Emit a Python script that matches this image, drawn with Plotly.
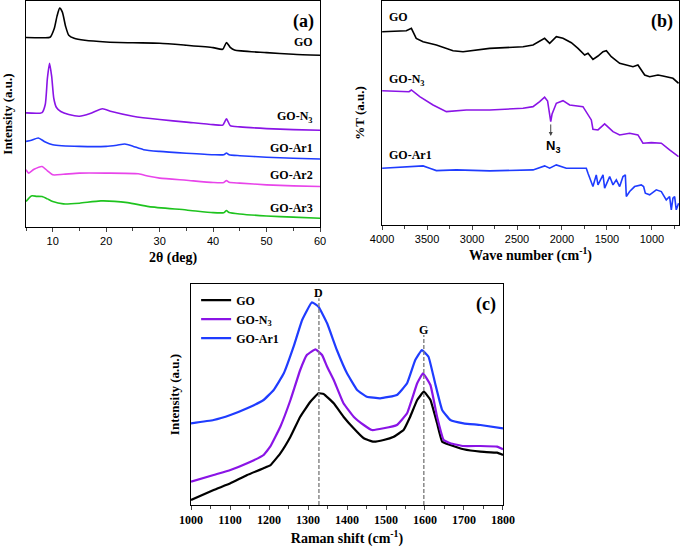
import plotly.graph_objects as go

# XRD (panel a) (a.u.)
xrd_go_x = [5, 8, 9.5, 10.3, 10.8, 11.3, 11.8, 12.4, 13, 14, 16, 20, 25, 30, 35, 40, 41.8, 42.5, 43.2, 44, 50, 55, 60]
xrd_go_y = [188.7, 188.5, 189, 198, 210, 218, 214, 200, 191, 188, 186, 184.3, 183.5, 183, 181, 178.7, 177, 183.7, 179, 176.3, 173.7, 172, 171]

xrd_n3_x = [5, 8, 8.6, 9.0, 9.4, 9.8, 10.2, 10.7, 11.5, 13, 15, 17, 19.3, 21, 25, 30, 35, 40, 41.8, 42.5, 43.2, 45, 50, 55, 60]
xrd_n3_y = [113.7, 114, 122, 148, 163, 150, 128, 119, 115, 112, 110.3, 113, 117.7, 115, 110.3, 107, 104.5, 102, 101.5, 107.7, 101, 99.7, 98, 97, 96.3]

xrd_ar1_x = [5, 6, 7.3, 8.5, 10, 15, 20, 22, 23.5, 25, 27, 30, 35, 40, 42, 42.5, 43, 45, 50, 55, 60]
xrd_ar1_y = [85.3, 86.5, 88.7, 85, 82, 80.3, 80.3, 81.5, 82.7, 80.5, 77, 75.3, 73.5, 72, 72, 73.7, 72, 71, 69.5, 68.5, 67.7]

xrd_ar2_x = [5, 5.5, 6.5, 8, 9, 10, 12, 15, 20, 26, 28, 30, 35, 40, 42, 42.5, 43, 45, 50, 55, 60]
xrd_ar2_y = [57, 53.7, 57.5, 60.3, 56, 52, 52.5, 53.7, 53.7, 53, 50.5, 48.7, 46.5, 44.3, 44.3, 46.3, 44.5, 43.7, 42, 41, 40.3]

xrd_ar3_x = [5, 6, 7, 8, 9, 10, 12, 15, 19, 24, 28, 35, 40, 42, 42.5, 43, 45, 50, 55, 60]
xrd_ar3_y = [25.3, 31, 30.5, 30.3, 28, 25.3, 23, 23.7, 26, 24.3, 20.3, 17, 14.3, 14.3, 16.3, 14.5, 13, 11, 9.8, 8.7]

# FTIR (panel b)
ftir_x_go = [3999, 3730, 3674, 3620, 3544, 3396, 3211, 3100, 2804, 2433, 2322, 2193, 2137, 2063, 1989, 1896, 1822,
             1748, 1711, 1656, 1600, 1544, 1507, 1452, 1359, 1285, 1211, 1156, 1081, 1026, 933, 878, 767, 704]
ftir_y_go = [193.3, 194.3, 196.7, 186.7, 183.3, 180, 174.3, 173.3, 176.7, 178.3, 180, 186.7, 181.7, 188.3, 186.7, 182.3,
             176.7, 170, 171.7, 165.7, 169, 173.3, 174.3, 168.3, 161.7, 160, 158.3, 160, 150, 148.3, 150, 149, 146.7, 141.7]

ftir_x_n3 = [3999, 3700, 3674, 3581, 3433, 3285, 3063, 2804, 2433, 2322, 2248, 2193, 2160, 2135, 2125, 2110, 2063,
             1989, 1915, 1767, 1711, 1674, 1656, 1600, 1526, 1433, 1359, 1248, 1156, 1100, 1007, 896, 804, 704]
ftir_y_n3 = [134.3, 133.3, 135, 128.3, 120, 113.3, 115, 115, 116.7, 118.3, 123.3, 127.7, 124, 108, 103.3, 111, 121.7,
             124.3, 120, 118.3, 110, 105, 95.7, 95, 101, 93.3, 90, 91.7, 90, 81.7, 82.3, 81.7, 75, 68.3]

ftir_x_ar1 = [3999, 3544, 3470, 3396, 3174, 2804, 2322, 2193, 2137, 2063, 1952, 1730, 1711, 1674, 1656, 1619, 1600,
              1544, 1526, 1470, 1433, 1396, 1359, 1322, 1296, 1285, 1248, 1193, 1119, 1093, 1074, 1026, 952, 896,
              841, 804, 785, 767, 748, 730, 704]
ftir_y_ar1 = [56.7, 59, 56.7, 54.3, 55, 54, 55, 59, 56.7, 60, 56.7, 56.7, 51.7, 43.3, 38.3, 50, 40,
              50, 36.7, 48.3, 40, 45, 38.3, 48.3, 50, 28.3, 33.3, 38.3, 40, 38.3, 31.7, 30, 35, 33.3,
              25, 28.3, 15, 26.7, 28.3, 15, 21.7]

# Raman (panel c)
raman_x = [1000, 1058, 1101, 1144, 1186, 1203, 1229, 1255, 1280, 1306, 1327, 1340, 1366, 1391, 1417, 1443, 1468,
           1494, 1520, 1545, 1562, 1580, 1597, 1614, 1631, 1644, 1665, 1699, 1742, 1785, 1800]
raman_go = [5, 15, 21.7, 30, 36.7, 39.5, 51.7, 68.3, 88.3, 103.3, 111.7, 111, 101.7, 88.3, 76.7, 66.7, 63.3,
            65, 68.3, 75, 88.3, 105, 113.3, 105, 81.7, 63.3, 60, 55.7, 53.3, 52.3, 50]

raman_n3_x = [1000, 1058, 1101, 1144, 1186, 1203, 1229, 1255, 1280, 1297, 1319, 1336, 1349, 1366, 1391, 1417, 1443,
              1464, 1494, 1528, 1554, 1580, 1595, 1614, 1631, 1648, 1665, 1699, 1742, 1785, 1800]
raman_n3 = [23.3, 30, 35, 41.7, 50, 58.3, 78.3, 105, 135, 150, 155.7, 150, 138.3, 125, 101.7, 88.3, 80,
            75, 76.7, 80, 91.7, 121.7, 131.7, 120, 88.3, 65, 61.7, 59, 59, 58.3, 55.7]

raman_ar1_x = [1000, 1058, 1101, 1144, 1186, 1212, 1238, 1263, 1285, 1310, 1327, 1349, 1374, 1400, 1426, 1451, 1485,
               1528, 1554, 1575, 1592, 1609, 1626, 1644, 1665, 1699, 1742, 1800]
raman_ar1 = [81.7, 85, 90, 96.7, 105, 115, 131.7, 158.3, 185, 202.7, 198.3, 181.7, 155, 131.7, 115, 108.3, 106.7,
             110, 121.7, 145, 155, 148.3, 121.7, 95, 85, 81.7, 80, 76.7]

band_pos = [1328, 1597]
band_top = [206.7, 170]
band_names = ["D", "G"]

black = "#000000"
purple = "#8a14e6"
blue = "#1f3cff"
magenta = "#e845ea"
green = "#1ec31e"

serif = "Liberation Serif"
sans = "Liberation Sans"

fig = go.Figure()

# panel a
for xs, ys, c in [(xrd_go_x, xrd_go_y, black), (xrd_n3_x, xrd_n3_y, purple), (xrd_ar1_x, xrd_ar1_y, blue),
                  (xrd_ar2_x, xrd_ar2_y, magenta), (xrd_ar3_x, xrd_ar3_y, green)]:
    fig.add_trace(go.Scatter(x=xs, y=ys, mode="lines", line=dict(color=c, width=1.6, shape="spline", smoothing=0.6),
                             showlegend=False, xaxis="x", yaxis="y"))

# panel b
for xs, ys, c in [(ftir_x_go, ftir_y_go, black), (ftir_x_n3, ftir_y_n3, purple), (ftir_x_ar1, ftir_y_ar1, blue)]:
    fig.add_trace(go.Scatter(x=xs, y=ys, mode="lines", line=dict(color=c, width=1.6),
                             showlegend=False, xaxis="x2", yaxis="y2"))

# panel c
for xs, ys, c, name in [(raman_x, raman_go, black, "<b>GO</b>"), (raman_n3_x, raman_n3, purple, "<b>GO-N<sub>3</sub></b>"),
                        (raman_ar1_x, raman_ar1, blue, "<b>GO-Ar1</b>")]:
    fig.add_trace(go.Scatter(x=xs, y=ys, mode="lines", name=name,
                             line=dict(color=c, width=2.2, shape="spline", smoothing=0.3),
                             xaxis="x3", yaxis="y3"))

for pos, top, nm in zip(band_pos, band_top, band_names):
    fig.add_trace(go.Scatter(x=[pos, pos], y=[0, top], mode="lines", showlegend=False,
                             line=dict(color="#808080", width=1.4, dash="4px,2px"), xaxis="x3", yaxis="y3"))
    fig.add_annotation(x=pos, y=top, xref="x3", yref="y3", text="<b>%s</b>" % nm, showarrow=False,
                       yanchor="bottom", yshift=-4, font=dict(family=serif, size=12, color="black"))

frame = dict(showline=True, linecolor="black", linewidth=1, mirror=True, showgrid=False, zeroline=False,
             automargin=False)
tick_sans = dict(family=sans, size=11, color="black")
title_font = dict(family=serif, size=14, color="black")
ytitle_font = dict(family=serif, size=13, color="black")

fig.update_layout(
    width=681, height=547,
    margin=dict(l=0, r=0, t=0, b=0),
    paper_bgcolor="white", plot_bgcolor="white",
    xaxis=dict(domain=[0.0382, 0.4699], range=[5, 60], tick0=0, dtick=10, ticks="outside", ticklen=4,
               minor=dict(dtick=5, ticks="outside", ticklen=3, tick0=0), tickfont=tick_sans,
               title=dict(text="<b>2θ (deg)</b>", font=title_font, standoff=5), anchor="y", **frame),
    yaxis=dict(domain=[0.585, 0.998], range=[0, 225], showticklabels=False, ticks="", anchor="x",
               title=dict(text="<b>Intensity (a.u.)</b>", font=ytitle_font, standoff=10), **frame),
    xaxis2=dict(domain=[0.561, 0.997], range=[4000, 700], dtick=500, ticks="outside", ticklen=4,
                minor=dict(dtick=250, ticks="outside", ticklen=3), tickfont=tick_sans,
                title=dict(text="<b>Wave number (cm<sup>-1</sup>)</b>", font=title_font, standoff=5),
                anchor="y2", **frame),
    yaxis2=dict(domain=[0.589, 0.998], range=[0, 224], showticklabels=False, ticks="", anchor="x2",
                title=dict(text="<b>%T (a.u.)</b>", font=ytitle_font, standoff=13), **frame),
    xaxis3=dict(domain=[0.2805, 0.7386], range=[1000, 1800], dtick=100, ticks="outside", ticklen=4,
                minor=dict(dtick=50, ticks="outside", ticklen=3),
                tickfont=dict(family=serif, size=12, color="black"), tickprefix="<b>", ticksuffix="</b>",
                title=dict(text="<b>Raman shift (cm<sup>-1</sup>)</b>", font=title_font, standoff=6),
                anchor="y3", **frame),
    yaxis3=dict(domain=[0.0768, 0.4808], range=[0, 221], showticklabels=False, ticks="", anchor="x3",
                title=dict(text="<b>Intensity (a.u.)</b>", font=ytitle_font, standoff=7), **frame),
    legend=dict(x=0.288, y=0.478, xanchor="left", yanchor="top", bgcolor="rgba(0,0,0,0)",
                font=dict(family=serif, size=12, color="black"), itemwidth=30, tracegroupgap=0),
)

# curve labels, panel a
for txt, yv in [("GO", 184), ("GO-N<sub>3</sub>", 110), ("GO-Ar1", 79), ("GO-Ar2", 52), ("GO-Ar3", 19)]:
    fig.add_annotation(x=59, y=yv, xref="x", yref="y", text="<b>%s</b>" % txt, showarrow=False,
                       xanchor="right", font=dict(family=serif, size=12, color="black"))

# curve labels, panel b
for txt, yv in [("GO", 208), ("GO-N<sub>3</sub>", 145), ("GO-Ar1", 70)]:
    fig.add_annotation(x=3950, y=yv, xref="x2", yref="y2", text="<b>%s</b>" % txt, showarrow=False,
                       xanchor="left", font=dict(family=serif, size=12, color="black"))

fig.add_annotation(x=2125, y=89, ax=2125, ay=102, xref="x2", yref="y2", axref="x2", ayref="y2", text="",
                   showarrow=True, arrowhead=2, arrowsize=0.8, arrowwidth=1, arrowcolor="#444444")
fig.add_annotation(x=2100, y=78, xref="x2", yref="y2", text="<b>N<sub>3</sub></b>", showarrow=False,
                   font=dict(family=sans, size=13, color="black"))

# panel tags
for ax in ["x", "x2", "x3"]:
    yax = "y" + ax[1:]
    tag = {"x": "(a)", "x2": "(b)", "x3": "(c)"}[ax]
    fig.add_annotation(x=0.985, y=0.965, xref=ax + " domain", yref=yax + " domain", text="<b>%s</b>" % tag,
                       showarrow=False, xanchor="right", yanchor="top",
                       font=dict(family=serif, size=18, color="black"))

# page body has a default 8px margin, drop it so the figure fills the window
fig.write_html("out.html", config={"displayModeBar": False},
               post_script="document.body.style.margin='0';")
